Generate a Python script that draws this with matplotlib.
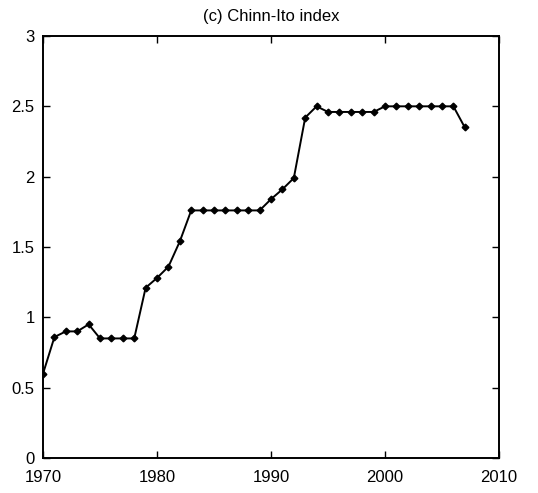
import matplotlib
matplotlib.use("Agg")
import matplotlib.pyplot as plt

plt.rcParams["font.family"] = ["Liberation Sans", "DejaVu Sans"]

years = list(range(1970, 2008))
chinn_ito = [
    0.60, 0.86, 0.90, 0.90, 0.95, 0.85, 0.85, 0.85, 0.85, 1.21,
    1.28, 1.36, 1.54, 1.76, 1.76, 1.76, 1.76, 1.76, 1.76, 1.76,
    1.84, 1.91, 1.99, 2.42, 2.50, 2.46, 2.46, 2.46, 2.46, 2.46,
    2.50, 2.50, 2.50, 2.50, 2.50, 2.50, 2.50, 2.35,
]
x_ticks = [1970, 1980, 1990, 2000, 2010]
y_ticks = [0, 0.5, 1, 1.5, 2, 2.5, 3]
y_labels = ["0", "0.5", "1", "1.5", "2", "2.5", "3"]

fig = plt.figure(figsize=(5.38, 4.93), dpi=100)
ax = fig.add_axes([0.080, 0.071, 0.8475, 0.856])
ax.plot(years, chinn_ito, color="black", lw=1.4, marker="D", ms=3.4,
        markerfacecolor="black", markeredgecolor="black")
ax.set_xlim(1970, 2010)
ax.set_ylim(0, 3)
ax.set_xticks(x_ticks)
ax.set_yticks(y_ticks)
ax.set_yticklabels(y_labels)
ax.tick_params(direction="in", length=5, width=1, labelsize=12,
               top=True, right=True)
ax.tick_params(axis="x", pad=9)
ax.tick_params(axis="y", pad=6)
for s in ax.spines.values():
    s.set_linewidth(1.4)
ax.set_title("(c) Chinn-Ito index", fontsize=12, pad=11)

fig.savefig("out.png", dpi=100)
